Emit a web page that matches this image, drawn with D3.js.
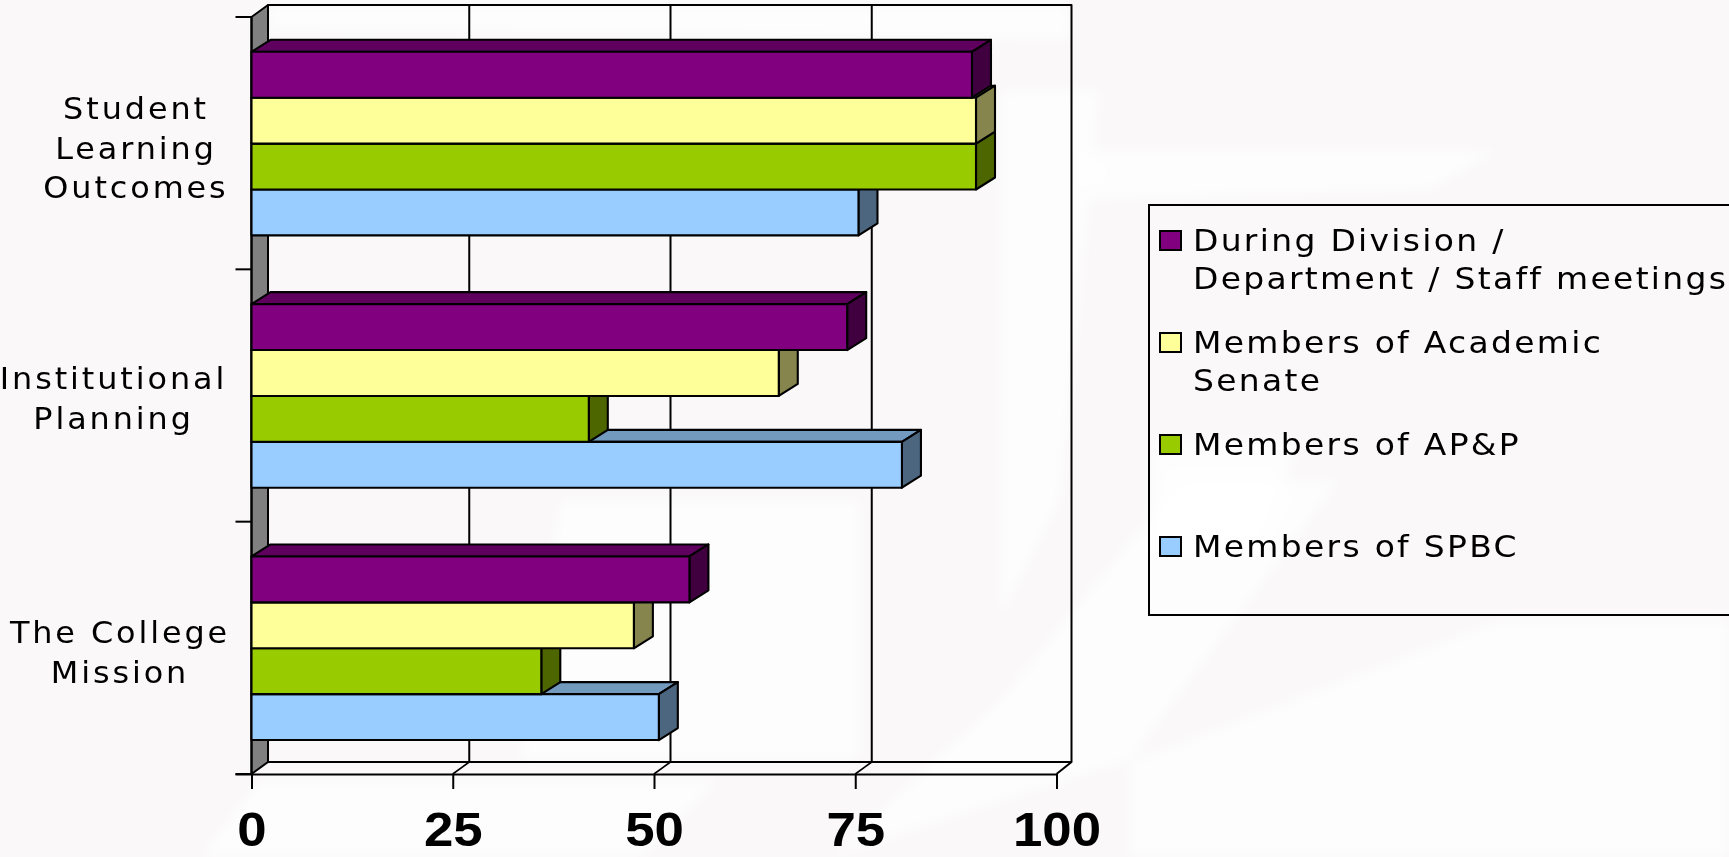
<!DOCTYPE html>
<html><head><meta charset="utf-8">
<script src="https://cdn.jsdelivr.net/npm/d3@7"></script>
<style>html,body{margin:0;padding:0;background:#faf8f8;overflow:hidden}svg{display:block}</style>
</head><body><svg id="c" width="1729" height="857"></svg>
<script>
const categories = ["Student Learning Outcomes", "Institutional Planning", "The College Mission"];
const categoryLines = [["Student","Learning","Outcomes"],["Institutional","Planning"],["The College","Mission"]];
const seriesNames = ["During Division / Department / Staff meetings","Members of Academic Senate","Members of AP&P","Members of SPBC"];
const legendLines = [["During Division /","Department / Staff meetings"],["Members of Academic","Senate"],["Members of AP&P"],["Members of SPBC"]];
const duringDivision = [89.5, 74, 54.4];
const academicSenate = [90, 65.5, 47.5];
const apAndP = [90, 41.9, 36];
const spbc = [75.4, 80.8, 50.6];
const seriesValues = [duringDivision, academicSenate, apAndP, spbc];
const frontColors = ["#800080","#ffff99","#99cc00","#99ccff"];
const topColors = ["#5f005f","#bfbf73","#739900","#729abf"];
const sideColors = ["#400040","#85854d","#4d6600","#4d6680"];
const xTicks = [0,25,50,75,100];

const svg = d3.select("#c");
const X0=251.5, X1=1056.5, YT=17, YB=774, DX=16.5, DY=-12, BDX=19, WALLR=1071.5;
const x = d3.scaleLinear().domain([0,100]).range([X0,X1]);
const y = d3.scaleBand().domain(categories).range([YT,YB]);
const inner = d3.scaleBand().domain(seriesNames).range([34.8, 34.8+183.6]);
const poly = pts => pts.map(p=>p.join(",")).join(" ");

// faint page texture
const defs = svg.append("defs");
defs.append("filter").attr("id","soft").append("feGaussianBlur").attr("stdDeviation",7);
const bg = svg.append("g").attr("filter","url(#soft)");
[
 [[1090,150],[1500,150],[1430,190],[1090,200]],
 [[830,857],[1130,760],[1340,480],[1180,480],[1000,700]],
 [[1130,762],[1500,620],[1729,620],[1729,857],[1130,857]],
 [[260,780],[720,780],[640,857],[200,857]],
 [[1000,90],[1100,90],[1060,500],[1000,620]],
 [[560,500],[860,500],[860,760],[520,760]],
 [[270,5],[1070,5],[1070,40],[270,30]],
 [[1150,440],[1300,440],[1260,540],[1150,540]]
].forEach(d=>bg.append("polygon").attr("points",poly(d)).attr("fill","#ffffff").attr("opacity",0.75));

const g = svg.append("g").attr("stroke","#000").attr("stroke-linejoin","round");

// back wall, side wall, floor
g.append("polygon").attr("points",poly([[X0,YT],[X0+DX,YT+DY],[X0+DX,YB+DY],[X0,YB]])).attr("fill","#808080").attr("stroke-width",2);
g.append("polyline").attr("fill","none").attr("stroke-width",2)
 .attr("points",poly([[X0+DX,YB+DY],[X0+DX,YT+DY],[WALLR,YT+DY],[WALLR,YB+DY],[X1,YB]]));
g.append("line").attr("x1",X0+DX).attr("x2",WALLR).attr("y1",YB+DY).attr("y2",YB+DY).attr("stroke-width",2);

// gridlines and floor ticks
g.selectAll(".grid").data(xTicks.slice(1,-1)).join("line")
 .attr("x1",d=>x(d)+DX).attr("x2",d=>x(d)+DX).attr("y1",YT+DY).attr("y2",YB+DY).attr("stroke-width",2);
g.selectAll(".floor").data(xTicks.slice(1,-1)).join("line")
 .attr("x1",d=>x(d)).attr("x2",d=>x(d)+DX).attr("y1",YB).attr("y2",YB+DY).attr("stroke-width",1.6);

// value axis
const xAxis = d3.axisBottom(x).tickValues(xTicks).tickSize(15).tickPadding(0);
const axG = svg.append("g").attr("transform",`translate(0,${YB})`).call(xAxis);
axG.select(".domain").attr("stroke","#000").attr("stroke-width",2).attr("d",`M${X0-16},0.5H${X1}`);
axG.selectAll(".tick line").attr("stroke","#000").attr("stroke-width",2);
axG.selectAll(".tick text").attr("y",72).attr("dy",0).attr("fill","#000")
 .attr("transform","scale(1.1,1)")
 .style("font","bold 48px 'Liberation Sans'").attr("text-anchor","middle");

// category ticks
const catEdges = categories.map(c=>y(c)).concat([YB]);
g.selectAll(".ct").data(catEdges).join("line")
 .attr("x1",X0-16).attr("x2",X0).attr("y1",d=>d).attr("y2",d=>d).attr("stroke-width",2);
g.append("line").attr("x1",X0).attr("x2",X0).attr("y1",YT).attr("y2",YB).attr("stroke-width",2);

// bars: lower series first so the upper front faces cover them
categories.forEach((c,ci)=>{
  for(let si=seriesNames.length-1; si>=0; si--){
    const v = seriesValues[si][ci];
    const t = y(c)+inner(seriesNames[si]), h = inner.bandwidth(), r = x(v), l = x(0);
    g.append("polygon").attr("fill",topColors[si]).attr("stroke-width",2.1)
      .attr("points",poly([[l,t],[l+BDX,t+DY],[r+BDX,t+DY],[r,t]]));
    g.append("polygon").attr("fill",sideColors[si]).attr("stroke-width",2.1)
      .attr("points",poly([[r,t],[r+BDX,t+DY],[r+BDX,t+h+DY],[r,t+h]]));
    g.append("rect").attr("fill",frontColors[si]).attr("stroke-width",2.1)
      .attr("x",l).attr("y",t).attr("width",r-l).attr("height",h);
  }
});

// category labels
const catCenters = [136,113.5,120];
const catBaselines = [119,389,643];
categoryLines.forEach((lines,i)=>{
  lines.forEach((s,j)=>svg.append("text").text(s)
    .attr("transform",`translate(${catCenters[i]},${catBaselines[i]+j*39.7}) scale(1.08,1)`).attr("text-anchor","middle")
    .attr("fill","#000").style("font","29.5px 'DejaVu Sans'").style("letter-spacing","2.7px"));
});

// legend
svg.append("polyline").attr("fill","none").attr("stroke","#000").attr("stroke-width",2)
  .attr("points",poly([[1729,205],[1149,205],[1149,615],[1729,615]]));
const legY = d3.scalePoint().domain(seriesNames).range([231,537]);
const legText = svg.append("g");
seriesNames.forEach((s,i)=>{
  svg.append("rect").attr("x",1160).attr("y",legY(s)).attr("width",21).attr("height",19)
    .attr("fill",frontColors[i]).attr("stroke","#000").attr("stroke-width",2);
  legendLines[i].forEach((t,j)=>legText.append("text").text(t)
    .attr("transform",`translate(1193,${legY(s)+20+j*37.8}) scale(1.08,1)`).attr("fill","#000")
    .style("font","30.5px 'DejaVu Sans'").style("letter-spacing","2.15px"));
});
</script></body></html>
